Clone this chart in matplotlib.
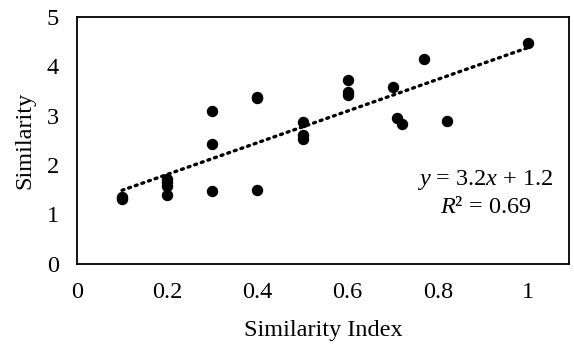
import numpy as np
import matplotlib.pyplot as plt

plt.rcParams['font.family'] = ['Liberation Serif', 'DejaVu Serif']
plt.rcParams['mathtext.fontset'] = 'custom'
plt.rcParams['mathtext.rm'] = 'Liberation Serif'
plt.rcParams['mathtext.it'] = 'Liberation Serif:italic'

similarity_index = [0.1, 0.1, 0.2, 0.2, 0.2, 0.2, 0.3, 0.3, 0.3, 0.4, 0.4, 0.4,
                    0.5, 0.5, 0.5, 0.6, 0.6, 0.6, 0.7, 0.71, 0.72, 0.77, 0.82, 1.0]
similarity = [1.31, 1.35, 1.40, 1.58, 1.65, 1.72, 3.10, 2.42, 1.48, 3.37, 3.35, 1.50,
              2.88, 2.61, 2.52, 3.72, 3.47, 3.42, 3.58, 2.95, 2.84, 4.14, 2.89, 4.48]

x = np.array(similarity_index)
y = np.array(similarity)
slope, intercept = np.polyfit(x, y, 1)

fig = plt.figure(figsize=(5.74, 3.44), dpi=100)
ax = fig.add_axes([0.134, 0.233, 0.857, 0.718])

xx = np.array([x.min(), x.max()])
ax.plot(xx, slope * xx + intercept, color='black', lw=2.4,
        linestyle=(0, (0.6, 1.5)), dash_capstyle='round', zorder=2)
ax.scatter(x, y, s=52, color='black', zorder=3)

ax.set_xlim(0, 1.09)
ax.set_ylim(0, 5)
ax.set_xticks([0, 0.2, 0.4, 0.6, 0.8, 1])
ax.set_xticklabels(['0', '0.2', '0.4', '0.6', '0.8', '1'])
ax.set_yticks([0, 1, 2, 3, 4, 5])
ax.tick_params(axis='x', length=0, labelsize=17.5, pad=13)
ax.tick_params(axis='y', length=0, labelsize=17.5, pad=13)
for s in ax.spines.values():
    s.set_linewidth(1.3)

ax.set_xlabel('Similarity Index', fontsize=17.5, labelpad=12)
ax.set_ylabel('Similarity', fontsize=17.5, labelpad=8)

ax.text(0.905, 1.70, r'$y$ = 3.2$x$ + 1.2', fontsize=17.5,
        ha='center', va='center')
ax.text(0.905, 1.15, r'$R$² = 0.69', fontsize=17.5, ha='center', va='center')

fig.savefig('out.png')
